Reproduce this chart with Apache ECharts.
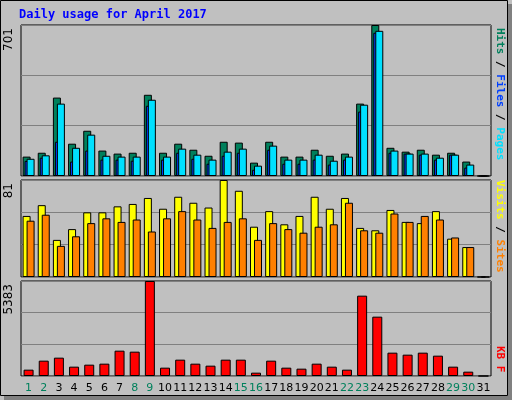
<!DOCTYPE html>
<html>
<head>
<meta charset="utf-8">
<script src="https://cdn.jsdelivr.net/npm/echarts@6/dist/echarts.min.js"></script>
<style>
  html, body { margin: 0; padding: 0; background: #fff; }
  #chart { width: 512px; height: 400px; }
</style>
</head>
<body>
<div id="chart"></div>
<script>
const days = ["1","2","3","4","5","6","7","8","9","10","11","12","13","14","15","16","17","18","19","20","21","22","23","24","25","26","27","28","29","30","31"];
const weekendDays = ["1","2","8","9","15","16","22","23","29","30"];

const hits  = [90,108,364,150,210,118,104,108,377,108,150,122,94,159,155,62,159,90,90,122,94,104,336,701,131,113,122,99,108,67,0];
const files = [70,85,159,67,118,76,76,71,326,76,108,80,57,94,108,29,122,57,57,76,53,76,299,665,108,104,99,76,99,39,0];
const pages = [80,96,336,131,192,94,90,90,354,90,127,99,76,113,127,48,141,76,76,99,71,90,331,674,118,104,104,85,99,53,0];

const visits = [51,60,31,40,54,54,59,61,66,57,67,62,58,81,72,42,55,44,51,67,57,66,41,39,56,46,45,55,32,25,0];
const sites  = [47,52,26,34,45,49,46,48,38,49,55,48,41,46,49,31,45,40,37,42,44,62,39,37,53,46,51,48,33,25,0];

const kbytes = [359,869,1039,529,642,699,1436,1379,5383,472,926,699,586,926,926,189,869,472,416,699,529,359,4552,3362,1322,1209,1322,1152,529,246,0];

const maxHits = Math.max(...hits);
const maxVisits = Math.max(...visits);
const maxKb = Math.max(...kbytes);

const chart = echarts.init(document.getElementById("chart"));

function yAxis(idx, max) {
  return {
    gridIndex: idx, min: 0, max: max, interval: max / 3,
    axisLabel: { show: false }, axisTick: { show: false }, axisLine: { show: false },
    splitLine: { lineStyle: { color: "#808080", width: 1 } }
  };
}
function xAxis(idx, labels) {
  return {
    gridIndex: idx, type: "category", data: days,
    axisTick: { show: false }, axisLine: { show: false }, splitLine: { show: false },
    axisLabel: labels ? {
      interval: 0, margin: 7, fontFamily: "DejaVu Sans", fontSize: 11,
      formatter: (d) => weekendDays.includes(d) ? "{w|" + d + "}" : d,
      color: "#000", rich: { w: { color: "#00805C", fontFamily: "DejaVu Sans", fontSize: 11 } }
    } : { show: false }
  };
}
const border = { borderColor: "#000", borderWidth: 1 };
function bar(name, data, color, xi, width, gap) {
  return {
    name: name, type: "bar", data: data, xAxisIndex: xi, yAxisIndex: xi,
    barWidth: width, barGap: gap, animation: false,
    itemStyle: Object.assign({ color: color }, border)
  };
}
const rot = (text, x, y, font, extra) => Object.assign({
  type: "text", x: x, y: y, rotation: Math.PI / 2,
  style: { text: text, font: font, fill: "#000", align: "right", verticalAlign: "middle" }
}, extra || {});

const monoLbl = "bold 11px DejaVu Sans Mono";

chart.setOption({
  backgroundColor: "#C0C0C0",
  grid: [
    { left: 21, right: 21, top: 25, height: 151, show: true, borderColor: "#000", borderWidth: 1, backgroundColor: "transparent" },
    { left: 21, right: 21, top: 180, height: 97, show: true, borderColor: "#000", borderWidth: 1 },
    { left: 21, right: 21, top: 281, height: 95, show: true, borderColor: "#000", borderWidth: 1 }
  ],
  xAxis: [xAxis(0, false), xAxis(1, false), xAxis(2, true)],
  yAxis: [yAxis(0, maxHits), yAxis(1, maxVisits), yAxis(2, maxKb)],
  series: [
    bar("Hits", hits, "#00805C", 0, 8, "-75%"),
    bar("Files", files, "#0040FF", 0, 8, "-75%"),
    bar("Pages", pages, "#00E0FF", 0, 8, "-75%"),
    bar("Visits", visits, "#FFFF00", 1, 8, "-50%"),
    bar("Sites", sites, "#FF8000", 1, 8, "-50%"),
    bar("KB F", kbytes, "#FF0000", 2, 10, "0%")
  ],
  graphic: [
    { type: "rect", shape: { x: 0.5, y: 0.5, width: 507, height: 395 }, style: { fill: null, stroke: "#000", lineWidth: 1 }, silent: true },
    { type: "rect", shape: { x: 508, y: 4, width: 4, height: 396 }, style: { fill: "#808080" } },
    { type: "rect", shape: { x: 4, y: 396, width: 508, height: 4 }, style: { fill: "#808080" } },
    { type: "text", x: 19, y: 9, style: { text: "Daily usage for April 2017", font: "bold 12px DejaVu Sans Mono", fill: "#0000FF" } },
    { type: "text", x: 9, y: 28, rotation: Math.PI / 2, style: { text: String(maxHits), font: "12px DejaVu Sans", fill: "#000", align: "right", verticalAlign: "middle" } },
    { type: "text", x: 9, y: 183, rotation: Math.PI / 2, style: { text: String(maxVisits), font: "12px DejaVu Sans", fill: "#000", align: "right", verticalAlign: "middle" } },
    { type: "text", x: 9, y: 284, rotation: Math.PI / 2, style: { text: String(maxKb), font: "12px DejaVu Sans", fill: "#000", align: "right", verticalAlign: "middle" } },
    { type: "text", x: 500, y: 28, rotation: -Math.PI / 2, style: {
      text: "{h|Hits}{s| / }{f|Files}{s| / }{p|Pages}", font: monoLbl, verticalAlign: "middle",
      rich: { h: { fill: "#00805C", font: monoLbl }, f: { fill: "#0040FF", font: monoLbl }, p: { fill: "#00E0FF", font: monoLbl }, s: { fill: "#000", font: monoLbl } } } },
    { type: "text", x: 500, y: 180, rotation: -Math.PI / 2, style: {
      text: "{v|Visits}{s| / }{t|Sites}", font: monoLbl, verticalAlign: "middle",
      rich: { v: { fill: "#FFFF00", font: monoLbl }, t: { fill: "#FF8000", font: monoLbl }, s: { fill: "#000", font: monoLbl } } } },
    { type: "text", x: 500, y: 346, rotation: -Math.PI / 2, style: { text: "KB F", font: monoLbl, fill: "#FF0000", verticalAlign: "middle" } }
  ]
});
</script>
</body>
</html>
